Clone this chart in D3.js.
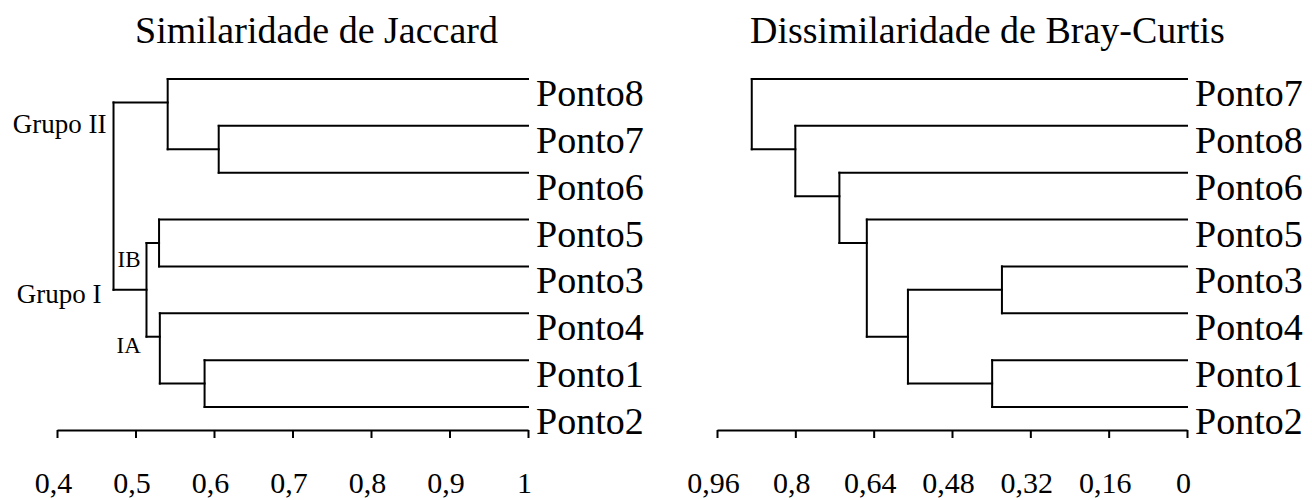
<!DOCTYPE html>
<html>
<head>
<meta charset="utf-8">
<script src="https://cdn.jsdelivr.net/npm/d3@7/dist/d3.min.js"></script>
<style>
  html, body { margin: 0; padding: 0; background: #fff; }
  svg { display: block; }
</style>
</head>
<body>
<svg id="chart" width="1312" height="500"></svg>
<script>
// ---------- DATA ----------
const jaccardTitle = "Similaridade de Jaccard";
const brayTitle = "Dissimilaridade de Bray-Curtis";

const jaccardLeaves = ["Ponto8", "Ponto7", "Ponto6", "Ponto5", "Ponto3", "Ponto4", "Ponto1", "Ponto2"];
// [id, childA, childB, height]
const jaccardMerges = [
  ["c76", "Ponto7", "Ponto6", 0.606],
  ["g2", "Ponto8", "c76", 0.541],
  ["ib", "Ponto5", "Ponto3", 0.530],
  ["c12", "Ponto1", "Ponto2", 0.588],
  ["ia", "Ponto4", "c12", 0.531],
  ["g1", "ib", "ia", 0.514],
  ["root", "g2", "g1", 0.472]
];
const jaccardTicks = [0.4, 0.5, 0.6, 0.7, 0.8, 0.9, 1];
const jaccardTickLabels = ["0,4", "0,5", "0,6", "0,7", "0,8", "0,9", "1"];

const brayLeaves = ["Ponto7", "Ponto8", "Ponto6", "Ponto5", "Ponto3", "Ponto4", "Ponto1", "Ponto2"];
const brayMerges = [
  ["c34", "Ponto3", "Ponto4", 0.378],
  ["c12", "Ponto1", "Ponto2", 0.398],
  ["c3412", "c34", "c12", 0.570],
  ["c5", "Ponto5", "c3412", 0.654],
  ["c6", "Ponto6", "c5", 0.710],
  ["c8", "Ponto8", "c6", 0.800],
  ["root", "Ponto7", "c8", 0.889]
];
const brayTicks = [0.96, 0.8, 0.64, 0.48, 0.32, 0.16, 0];
const brayTickLabels = ["0,96", "0,8", "0,64", "0,48", "0,32", "0,16", "0"];

// group annotations on the Jaccard tree: [node id, text]
const jaccardGroups = [["g2", "Grupo II"], ["g1", "Grupo I"], ["ib", "IB"], ["ia", "IA"]];

// ---------- LAYOUT ----------
const FONT = "Liberation Serif";
const svg = d3.select("#chart");
const axisY = 430;
const yLeaf = d3.scalePoint().domain(d3.range(8)).range([79, 407]);
const step = yLeaf.step();

function label(g, x, y, size, txt, anchor) {
  return g.append("text").attr("x", x).attr("y", y)
    .attr("text-anchor", anchor || "start")
    .attr("font-size", size).attr("fill", "#000")
    .style("font-family", FONT).text(txt);
}

function drawTree(g, leaves, merges, x, leafValue) {
  const nodes = {};
  leaves.forEach((name, i) => {
    nodes[name] = { leaf: true, x: x(leafValue), y: yLeaf(i) };
  });
  merges.forEach(([id, a, b, h]) => {
    const A = nodes[a], B = nodes[b];
    let yOut;
    if (A.leaf === B.leaf) yOut = (A.y + B.y) / 2;
    else if (A.leaf) yOut = A.y + Math.sign(B.y - A.y) * step / 2;
    else yOut = B.y + Math.sign(A.y - B.y) * step / 2;
    const xn = x(h);
    g.append("line").attr("x1", xn).attr("x2", xn).attr("y1", A.y).attr("y2", B.y);
    [A, B].forEach(C => {
      g.append("line").attr("x1", xn).attr("x2", C.x).attr("y1", C.y).attr("y2", C.y);
    });
    nodes[id] = { leaf: false, x: xn, y: yOut };
  });
  g.selectAll("line")
    .attr("stroke", "#000").attr("stroke-width", 2).attr("stroke-linecap", "square");

  leaves.forEach((d, i) => label(g, x(leafValue) + 8, yLeaf(i) + 27, 38, d));
  return nodes;
}

function drawAxis(g, x, ticks, labels) {
  const ax = d3.axisBottom(x).tickValues(ticks).tickSize(8).tickSizeOuter(0)
    .tickFormat((d, i) => labels[i]);
  const a = g.append("g").attr("transform", `translate(0,${axisY})`).call(ax);
  a.select(".domain").attr("stroke", "#000").attr("stroke-width", 2);
  a.selectAll(".tick line").attr("stroke", "#000").attr("stroke-width", 2);
  a.selectAll(".tick text")
    .attr("y", 63).attr("dy", 0).attr("dx", -4)
    .attr("font-size", 30)
    .style("font-family", FONT)
    .attr("fill", "#000");
}

// Left: Jaccard
const xJ = d3.scaleLinear().domain([0.4, 1]).range([57, 528]);
const gL = svg.append("g");
const nodesJ = drawTree(gL, jaccardLeaves, jaccardMerges, xJ, 1);
drawAxis(gL, xJ, jaccardTicks, jaccardTickLabels);
label(gL, 135, 43, 38, jaccardTitle);

const rootX = nodesJ["root"].x;
const grp = Object.fromEntries(jaccardGroups);
label(gL, rootX - 7, nodesJ["g2"].y + 31, 27, grp["g2"], "end");
label(gL, rootX - 12, nodesJ["g1"].y + 13, 27, grp["g1"], "end");
label(gL, rootX + 4, nodesJ["ib"].y + 24, 23, grp["ib"]);
label(gL, rootX + 3, nodesJ["ia"].y + 16, 23, grp["ia"]);

// Right: Bray-Curtis
const xB = d3.scaleLinear().domain([0.96, 0]).range([717, 1187]);
const gR = svg.append("g");
drawTree(gR, brayLeaves, brayMerges, xB, 0);
drawAxis(gR, xB, brayTicks, brayTickLabels);
label(gR, 750, 43, 38, brayTitle);
</script>
</body>
</html>
